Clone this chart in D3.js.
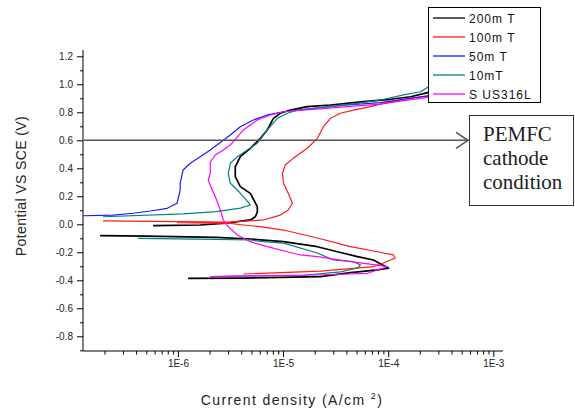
<!DOCTYPE html>
<html><head><meta charset="utf-8">
<script src="https://cdn.jsdelivr.net/npm/d3@7"></script>
<style>html,body{margin:0;padding:0;background:#fff;} svg{display:block;}</style>
</head><body>
<svg id="c" width="575" height="410"></svg>
<script>
// ---------- data: [current density (A/cm2), potential (V vs SCE)]; null = break ----------
const seriesNames  = ["200m T", "100m T", "50m T", "10mT", "S US316L"];
const seriesColors = ["#000000", "#ff1a1a", "#1a1aff", "#008080", "#ff00ff"];

const data200mT = [
  [1.25e-6,-0.386],[4.19e-6,-0.384],[2.27e-5,-0.374],[4.38e-5,-0.345],[7.91e-5,-0.326],[1.01e-4,-0.314],
  [7.24e-5,-0.255],[5.10e-5,-0.231],[3.29e-5,-0.196],[2.12e-5,-0.160],[1.01e-5,-0.124],[4.88e-6,-0.105],
  [2.32e-6,-0.094],[4.99e-7,-0.084],[1.82e-7,-0.081],
  null,
  [5.81e-7,-0.010],[1.63e-6,-0.005],[2.88e-6,0.009],[4.88e-6,0.031],[5.45e-6,0.054],[5.69e-6,0.088],
  [5.69e-6,0.126],[4.88e-6,0.221],[3.92e-6,0.269],[3.51e-6,0.340],[3.51e-6,0.411],[3.92e-6,0.483],
  [4.88e-6,0.543],[6.08e-6,0.614],[7.08e-6,0.674],[8.09e-6,0.757],[9.43e-6,0.793],[1.17e-5,0.816],
  [1.70e-5,0.840],[2.82e-5,0.852],[5.82e-5,0.876],[1.05e-4,0.893],[1.63e-4,0.911],[2.37e-4,0.94],[4.88e-4,0.97]
];
const data100mT = [
  [4.19e-6,-0.355],[2.27e-5,-0.334],[7.24e-5,-0.303],[9.02e-5,-0.276],[1.17e-4,-0.241],[1.12e-4,-0.219],
  [7.91e-5,-0.196],[4.38e-5,-0.160],[2.12e-5,-0.098],[1.01e-5,-0.041],[6.08e-6,-0.017],[4.19e-6,-0.005],
  [3.15e-6,0.006],[9.8e-7,0.011],
  null,
  [1.94e-7,0.024],[9.8e-7,0.019],[3.15e-6,0.016],[6.49e-6,0.031],[9.43e-6,0.066],[1.12e-5,0.102],
  [1.23e-5,0.150],[1.12e-5,0.221],[1.01e-5,0.293],[9.85e-6,0.364],[1.05e-5,0.424],[1.25e-5,0.471],
  [1.70e-5,0.543],[2.12e-5,0.614],[2.42e-5,0.697],[2.82e-5,0.757],[3.51e-5,0.793],[4.67e-5,0.816],
  [6.78e-5,0.840],[1.05e-4,0.876],[1.63e-4,0.900],[2.37e-4,0.916],[4.88e-4,0.945]
];
const data50mT = [
  [1.25e-7,0.061],[2.42e-7,0.066],[3.75e-7,0.079],[5.45e-7,0.095],[7.9e-7,0.114],[9.8e-7,0.150],
  [1.05e-6,0.245],[1.05e-6,0.293],[1.12e-6,0.388],[1.31e-6,0.436],[1.63e-6,0.483],[2.03e-6,0.531],
  [3.15e-6,0.638],[3.92e-6,0.697],[5.21e-6,0.745],[7.08e-6,0.781],[1.01e-5,0.804],[1.94e-5,0.829],
  [4.10e-5,0.852],[8.45e-5,0.869],[1.40e-4,0.893],[2.03e-4,0.911],[4.88e-4,0.95]
];
const data10mT = [
  [2.03e-6,-0.374],[1.56e-5,-0.364],[3.51e-5,-0.34],[5.10e-5,-0.312],[5.45e-5,-0.291],[4.67e-5,-0.267],
  [3.01e-5,-0.255],[2.12e-5,-0.205],[1.01e-5,-0.134],[6.49e-6,-0.124],[4.88e-6,-0.112],[2.32e-6,-0.107],
  [4.18e-7,-0.100],
  null,
  [1.94e-7,0.054],[1.12e-6,0.074],[2.32e-6,0.090],[3.92e-6,0.116],[4.88e-6,0.138],[4.19e-6,0.197],
  [3.67e-6,0.245],[3.15e-6,0.293],[3.01e-6,0.364],[3.15e-6,0.436],[3.67e-6,0.483],[4.57e-6,0.531],
  [5.69e-6,0.579],[7.08e-6,0.674],[8.83e-6,0.757],[1.10e-5,0.793],[1.37e-5,0.816],[2.82e-5,0.840],
  [5.10e-5,0.864],[8.45e-5,0.888],[1.40e-4,0.924],[2.03e-4,0.947],[2.42e-4,0.983],[3.5e-4,1.045]
];
const dataSUS316L = [
  [2.03e-6,-0.374],[4.88e-6,-0.369],[2.12e-5,-0.362],[6.35e-5,-0.350],[9.85e-5,-0.303],[7.91e-5,-0.291],
  [4.38e-5,-0.267],[2.12e-5,-0.231],[1.46e-5,-0.219],[1.10e-5,-0.196],[7.08e-6,-0.160],[4.88e-6,-0.124],
  [3.67e-6,-0.076],[3.01e-6,-0.017],[2.70e-6,0.031],[2.53e-6,0.102],[2.27e-6,0.197],[2.12e-6,0.245],
  [1.94e-6,0.316],[2.03e-6,0.364],[2.03e-6,0.445],[2.27e-6,0.495],[2.70e-6,0.531],[3.15e-6,0.566],
  [4.19e-6,0.674],[5.69e-6,0.745],[7.57e-6,0.781],[1.01e-5,0.804],[1.94e-5,0.821],[4.10e-5,0.840],
  [8.45e-5,0.859],[1.40e-4,0.883],[2.37e-4,0.907],[4.88e-4,0.94]
];
const seriesData = [data200mT, data100mT, data50mT, data10mT, dataSUS316L];

const yMajorTicks = [-0.8,-0.6,-0.4,-0.2,0.0,0.2,0.4,0.6,0.8,1.0,1.2];
const yMinorTicks = [-0.9,-0.7,-0.5,-0.3,-0.1,0.1,0.3,0.5,0.7,0.9,1.1];
const xMajorTicks = [1e-6,1e-5,1e-4,1e-3];
const xTickLabels = ["1E-6","1E-5","1E-4","1E-3"];
const xDecades = [1e-7,1e-6,1e-5,1e-4];
const xMinorMult = [2,3,4,5,6,7,8,9];
const annotationLines = ["PEMFC","cathode","condition"];
const annotationPotential = 0.6;

// ---------- drawing ----------
const svg = d3.select("#c");
const x = d3.scaleLog().domain([1.25e-7, 1.236e-3]).range([83, 503]);
const y = d3.scaleLinear().domain([-0.905, 1.245]).range([351, 50]);
const font = "'Liberation Sans', Arial, sans-serif";

// y axis
const gy = svg.append("g").attr("transform","translate(83,0)")
  .call(d3.axisLeft(y).tickValues(yMajorTicks).tickSize(6).tickPadding(4).tickFormat(d => d.toFixed(1)));
gy.select(".domain").attr("d","M0," + y.range()[0] + "V" + y.range()[1]).attr("stroke","#000");
svg.append("g").attr("transform","translate(83,0)")
  .call(d3.axisLeft(y).tickValues(yMinorTicks).tickSize(3).tickFormat(""))
  .select(".domain").remove();

// x axis
const gx = svg.append("g").attr("transform","translate(0,351)")
  .call(d3.axisBottom(x).tickValues(xMajorTicks).tickSize(6).tickPadding(3).tickFormat((d,i) => xTickLabels[i]));
gx.select(".domain").attr("d","M" + x.range()[0] + ",0H" + x.range()[1]).attr("stroke","#000");
const minorX = [];
xDecades.forEach(dec => xMinorMult.forEach(m => { const v = dec*m; if (v >= x.domain()[0] && v <= x.domain()[1]) minorX.push(v); }));
svg.append("g").attr("transform","translate(0,351)")
  .call(d3.axisBottom(x).tickValues(minorX).tickSize(3.5).tickFormat(""))
  .select(".domain").remove();

svg.selectAll(".tick text").attr("font-family", font).attr("font-size", 10).attr("fill","#222");
svg.selectAll(".tick line").attr("stroke","#000");

// axis titles
svg.append("text").attr("transform","translate(26,186) rotate(-90)")
  .attr("text-anchor","middle").attr("font-family",font).attr("font-size",14)
  .attr("letter-spacing",0.4).attr("fill","#222").text("Potential VS SCE (V)");
const xt = svg.append("text").attr("x",292).attr("y",405).attr("text-anchor","middle")
  .attr("font-family",font).attr("font-size",14).attr("letter-spacing",1.4).attr("fill","#222");
xt.append("tspan").text("Current density (A/cm ");
xt.append("tspan").attr("font-size",9).attr("dy",-6).text("2");
xt.append("tspan").attr("dy",6).text(")");

// curves
const line = d3.line().defined(d => d !== null).x(d => x(d[0])).y(d => y(d[1]));
svg.append("defs").append("clipPath").attr("id","plot").append("rect")
  .attr("x",83).attr("y",40).attr("width",430).attr("height",311);
const gc = svg.append("g").attr("clip-path","url(#plot)");
seriesData.forEach((s,k) => {
  gc.append("path").datum(s).attr("d", line).attr("fill","none")
    .attr("stroke", seriesColors[k]).attr("stroke-width", k === 0 ? 1.7 : 1.2)
    .attr("stroke-linejoin","round");
});

// arrow at PEMFC cathode potential
const ay = y(annotationPotential);
const ax1 = 468;
svg.append("line").attr("x1",84).attr("x2",ax1).attr("y1",ay).attr("y2",ay)
  .attr("stroke","#555").attr("stroke-width",1.6);
svg.append("path").attr("d",`M${ax1-12},${ay-8}L${ax1},${ay}L${ax1-12},${ay+8}`)
  .attr("fill","none").attr("stroke","#555").attr("stroke-width",1.6);

// annotation box
svg.append("rect").attr("x",469.5).attr("y",115.5).attr("width",104).attr("height",90)
  .attr("fill","#fff").attr("stroke","#333").attr("stroke-width",1);
annotationLines.forEach((t,i) => {
  svg.append("text").attr("x",483).attr("y",141 + i*24).attr("font-family","'Liberation Serif','Times New Roman',serif")
    .attr("font-size",21).attr("fill","#1c1c28").text(t);
});

// legend
svg.append("rect").attr("x",428.5).attr("y",7.5).attr("width",112).attr("height",95)
  .attr("fill","#fff").attr("stroke","#000").attr("stroke-width",1);
seriesNames.forEach((n,k) => {
  const ly = 18 + k*19;
  svg.append("line").attr("x1",433).attr("x2",465).attr("y1",ly).attr("y2",ly)
    .attr("stroke",seriesColors[k]).attr("stroke-width",1.3);
  svg.append("text").attr("x",469).attr("y",ly+4.5).attr("font-family",font).attr("font-size",12)
    .attr("letter-spacing",1).attr("fill","#111").text(n);
});
</script>
</body></html>
